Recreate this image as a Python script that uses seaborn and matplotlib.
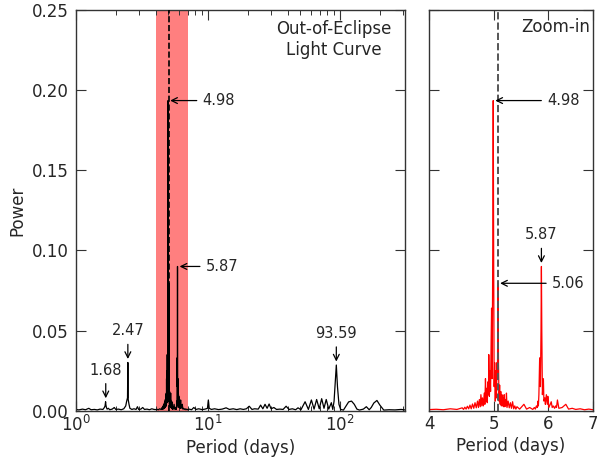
import matplotlib
matplotlib.use('Agg')
import matplotlib.pyplot as plt
import pandas as pd
import seaborn as sns
from matplotlib.ticker import FixedLocator, FixedFormatter, NullLocator, LogLocator

# ---------------- data: (period [d], power) ----------------
short_segment = [
    (1.00, 0.0008), (1.05, 0.0005), (1.12, 0.0010), (1.18, 0.0006), (1.25, 0.0015), (1.30, 0.0006),
    (1.38, 0.0008), (1.45, 0.0005), (1.52, 0.0010), (1.60, 0.0008), (1.64, 0.0020), (1.66, 0.0030),
    (1.675, 0.0056), (1.685, 0.0035), (1.70, 0.0020), (1.72, 0.0010), (1.76, 0.0015), (1.80, 0.0006),
    (1.88, 0.0010), (1.95, 0.0020), (2.00, 0.0008), (2.10, 0.0010), (2.20, 0.0006), (2.30, 0.0012),
    (2.38, 0.0030), (2.42, 0.0060), (2.455, 0.0080), (2.47, 0.0301), (2.485, 0.0070), (2.52, 0.0040),
    (2.56, 0.0015), (2.65, 0.0008), (2.75, 0.0012), (2.85, 0.0008), (2.92, 0.0025), (2.98, 0.0008),
    (3.10, 0.0010), (3.20, 0.0020), (3.30, 0.0008), (3.45, 0.0010), (3.60, 0.0006), (3.75, 0.0012),
    (3.90, 0.0008),
]
band_segment = [
    (4.00, 0.0007), (4.10, 0.0009), (4.20, 0.0006), (4.30, 0.0012), (4.40, 0.0008), (4.48, 0.0018),
    (4.50, 0.0008), (4.52, 0.0022), (4.54, 0.0010), (4.56, 0.0028), (4.58, 0.0012), (4.60, 0.0035),
    (4.62, 0.0012), (4.64, 0.0042), (4.66, 0.0015), (4.68, 0.0050), (4.70, 0.0018), (4.72, 0.0060),
    (4.735, 0.0020), (4.75, 0.0070), (4.765, 0.0025), (4.775, 0.0100), (4.79, 0.0030), (4.80, 0.0080),
    (4.815, 0.0030), (4.83, 0.0110), (4.84, 0.0040), (4.85, 0.0200), (4.86, 0.0060), (4.87, 0.0140),
    (4.88, 0.0050), (4.89, 0.0180), (4.90, 0.0100), (4.905, 0.0350), (4.915, 0.0090), (4.925, 0.0250),
    (4.935, 0.0120), (4.945, 0.0450), (4.952, 0.0640), (4.962, 0.0200), (4.972, 0.1000), (4.98, 0.1935),
    (4.988, 0.0900), (4.996, 0.0150), (5.005, 0.0300), (5.015, 0.0060), (5.025, 0.0250), (5.035, 0.0080),
    (5.045, 0.0300), (5.052, 0.0200), (5.062, 0.0795), (5.07, 0.0300), (5.08, 0.0060), (5.09, 0.0160),
    (5.10, 0.0040), (5.11, 0.0120), (5.12, 0.0030), (5.13, 0.0100), (5.14, 0.0030), (5.15, 0.0080),
    (5.16, 0.0025), (5.17, 0.0100), (5.18, 0.0025), (5.19, 0.0070), (5.20, 0.0030), (5.21, 0.0110),
    (5.22, 0.0020), (5.24, 0.0060), (5.26, 0.0018), (5.28, 0.0050), (5.30, 0.0015), (5.32, 0.0056),
    (5.34, 0.0012), (5.36, 0.0030), (5.38, 0.0010), (5.40, 0.0025), (5.45, 0.0010), (5.53, 0.0040),
    (5.58, 0.0010), (5.64, 0.0020), (5.70, 0.0008), (5.73, 0.0020), (5.75, 0.0010), (5.77, 0.0030),
    (5.79, 0.0020), (5.80, 0.0060), (5.81, 0.0030), (5.82, 0.0100), (5.835, 0.0330), (5.85, 0.0150),
    (5.862, 0.0500), (5.87, 0.0900), (5.878, 0.0500), (5.89, 0.0100), (5.91, 0.0200), (5.92, 0.0060),
    (5.94, 0.0080), (5.95, 0.0040), (5.97, 0.0100), (5.99, 0.0040), (6.00, 0.0090), (6.02, 0.0020),
    (6.05, 0.0040), (6.07, 0.0056), (6.09, 0.0020), (6.11, 0.0030), (6.14, 0.0015), (6.16, 0.0030),
    (6.18, 0.0020), (6.20, 0.0067), (6.23, 0.0015), (6.30, 0.0020), (6.38, 0.0040), (6.44, 0.0010),
    (6.52, 0.0015), (6.60, 0.0008), (6.70, 0.0012), (6.80, 0.0006), (6.90, 0.0010), (7.00, 0.0006),
]
long_segment = [
    (7.2, 0.0010), (7.5, 0.0006), (7.8, 0.0020), (8.1, 0.0008), (8.5, 0.0012), (9.0, 0.0007),
    (9.5, 0.0010), (9.9, 0.0015), (10.05, 0.0067), (10.2, 0.0015), (10.6, 0.0008), (11.2, 0.0012),
    (12.0, 0.0007), (12.8, 0.0010), (13.7, 0.0018), (14.5, 0.0008), (15.5, 0.0012), (16.5, 0.0007),
    (17.5, 0.0012), (18.5, 0.0008), (19.5, 0.0012), (20.5, 0.0028), (21.5, 0.0008), (22.5, 0.0012),
    (24.0, 0.0010), (25.0, 0.0035), (26.0, 0.0012), (27.0, 0.0040), (28.0, 0.0015), (29.0, 0.0042),
    (30.0, 0.0012), (31.5, 0.0020), (33.0, 0.0008), (35.0, 0.0010), (37.0, 0.0008), (39.0, 0.0028),
    (41.0, 0.0008), (43.5, 0.0012), (46.0, 0.0006), (48.0, 0.0018), (50.5, 0.0006), (54.3, 0.0056),
    (57.5, 0.0008), (60.6, 0.0067), (63.5, 0.0010), (66.4, 0.0070), (69.5, 0.0012), (72.5, 0.0075),
    (75.5, 0.0015), (78.5, 0.0070), (82.0, 0.0010), (85.8, 0.0050), (88.0, 0.0008), (90.0, 0.0060),
    (91.8, 0.0170), (93.59, 0.0285), (95.5, 0.0150), (98.0, 0.0040), (101.0, 0.0008), (106.0, 0.0004),
    (110.0, 0.0025), (116.0, 0.0055), (122.0, 0.0060), (128.0, 0.0040), (134.0, 0.0010), (140.0, 0.0004),
    (150.0, 0.0010), (158.0, 0.0025), (166.0, 0.0006), (172.0, 0.0020), (180.0, 0.0048), (190.0, 0.0064),
    (200.0, 0.0035), (214.0, 0.0004), (235.0, 0.0006), (260.0, 0.0005), (290.0, 0.0008), (310.0, 0.0005),
]

band_lo, band_hi = 4.0, 7.0
dashed_period = 5.06

left_side_labels = ["4.98", "5.87"]
left_side_x = [4.98, 5.87]
left_side_y = [0.1935, 0.0900]

left_top_labels = ["1.68", "2.47", "93.59"]
left_top_x = [1.68, 2.47, 93.59]
left_top_y = [0.0056, 0.0301, 0.0285]

zoom_side_labels = ["4.98", "5.06"]
zoom_side_x = [4.98, 5.062]
zoom_side_y = [0.1935, 0.0795]

zoom_top_labels = ["5.87"]
zoom_top_x = [5.87]
zoom_top_y = [0.0900]

left_xticks = [1, 10, 100]
zoom_xticks = [4, 5, 6, 7]
yticks = [0.00, 0.05, 0.10, 0.15, 0.20, 0.25]

# ---------------- drawing ----------------
sns.set_style('ticks')
plt.rcParams['font.family'] = ['DejaVu Sans']

fig = plt.figure(figsize=(5.97, 4.59), dpi=100)
ax1 = fig.add_axes([0.1273, 0.1052, 0.5511, 0.8730])
ax2 = fig.add_axes([0.7186, 0.1052, 0.2747, 0.8730])

rows = short_segment + band_segment + long_segment
df = pd.DataFrame(rows, columns=['period', 'power'])
edge = '#333333'
afs = 10.5

# left panel
ax1.axvspan(band_lo, band_hi, color='red', alpha=0.5, lw=0, zorder=0)
sns.lineplot(data=df, x='period', y='power', ax=ax1, color='black', lw=0.9,
             estimator=None, sort=False, zorder=2)
ax1.axvline(dashed_period, color='black', ls='--', lw=1.2, zorder=3)
ax1.set_xscale('log')
ax1.set_xlim(1, 310)
ax1.set_ylim(0, 0.25)
ax1.xaxis.set_major_locator(FixedLocator(left_xticks))
ax1.xaxis.set_minor_locator(LogLocator(base=10, subs=range(2, 10)))
ax1.set_yticks(yticks)
ax1.set_yticklabels([f"{v:.2f}" for v in yticks])
ax1.set_xlabel('Period (days)', fontsize=12, labelpad=3)
ax1.set_ylabel('Power', fontsize=12)
ax1.text(0.784, 0.975, 'Out-of-Eclipse\nLight Curve', transform=ax1.transAxes,
         ha='center', va='top', fontsize=12, multialignment='center')

arrow = dict(arrowstyle='->', color='black', lw=0.9, shrinkA=2, shrinkB=1.5)
side_offsets = [25, 20.5]
for lab, x, y, off in zip(left_side_labels, left_side_x, left_side_y, side_offsets):
    ax1.annotate(lab, xy=(x, y), xytext=(off, 0), textcoords='offset points',
                 ha='left', va='center', fontsize=afs, arrowprops=arrow)
for lab, x, y in zip(left_top_labels, left_top_x, left_top_y):
    ax1.annotate(lab, xy=(x, y), xytext=(0, 22.8), textcoords='offset points',
                 ha='center', va='center', fontsize=afs,
                 arrowprops=dict(arrow, shrinkB=2.5))

# zoom panel
zdf = df[(df['period'] >= 3.9) & (df['period'] <= 7.2)]
sns.lineplot(data=zdf, x='period', y='power', ax=ax2, color='red', lw=0.9,
             estimator=None, sort=False, zorder=2)
ax2.axvline(dashed_period, color='#555555', ls='--', lw=1.4, zorder=3)
ax2.set_xscale('log')
ax2.set_xlim(4, 7)
ax2.set_ylim(0, 0.25)
ax2.xaxis.set_major_locator(FixedLocator(zoom_xticks))
ax2.xaxis.set_major_formatter(FixedFormatter([str(v) for v in zoom_xticks]))
ax2.xaxis.set_minor_locator(NullLocator())
ax2.set_yticks(yticks)
ax2.tick_params(axis='y', labelleft=False)
ax2.set_xlabel('Period (days)', fontsize=12, labelpad=3)
ax2.set_ylabel('')
ax2.text(0.982, 0.98, 'Zoom-in', transform=ax2.transAxes, ha='right', va='top', fontsize=12)
for lab, x, y in zip(zoom_side_labels, zoom_side_x, zoom_side_y):
    ax2.annotate(lab, xy=(x, y), xytext=(39, 0), textcoords='offset points',
                 ha='left', va='center', fontsize=afs, arrowprops=arrow)
for lab, x, y in zip(zoom_top_labels, zoom_top_x, zoom_top_y):
    ax2.annotate(lab, xy=(x, y), xytext=(0, 22.8), textcoords='offset points',
                 ha='center', va='center', fontsize=afs,
                 arrowprops=dict(arrow, shrinkB=2.5))

for ax in (ax1, ax2):
    ax.tick_params(which='both', direction='in', top=True, right=True,
                   color=edge, labelsize=12)
    ax.tick_params(axis='y', pad=5)
    ax.tick_params(axis='x', pad=3)
    ax.tick_params(which='major', length=7, width=0.8)
    ax.tick_params(which='minor', length=3.5, width=0.7)
    for s in ax.spines.values():
        s.set_visible(True)
        s.set_color(edge)
        s.set_linewidth(1.0)

fig.savefig('out.png', dpi=100)
